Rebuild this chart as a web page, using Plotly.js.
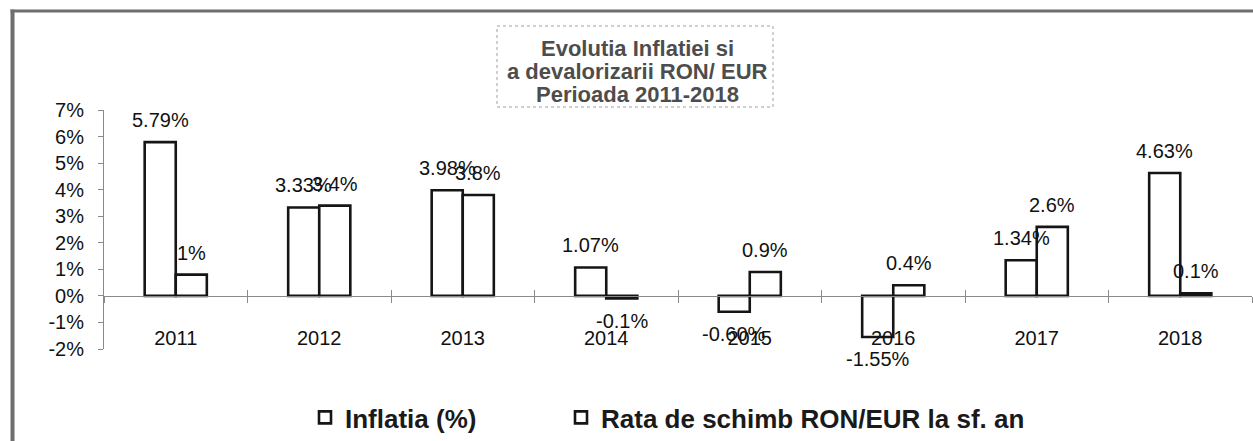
<!DOCTYPE html>
<html><head><meta charset="utf-8">
<script src="https://cdn.plot.ly/plotly-3.0.1.min.js"></script>
<style>html,body{margin:0;padding:0;background:#fff}#chart{width:1253px;height:441px}</style>
</head><body><div id="chart"></div>
<script>
const years = ['2011','2012','2013','2014','2015','2016','2017','2018'];
const inflation = [5.79, 3.33, 3.98, 1.07, -0.60, -1.55, 1.34, 4.63];
const inflationLabels = ['5.79%','3.33%','3.98%','1.07%','-0.60%','-1.55%','1.34%','4.63%'];
const rate = [0.8, 3.4, 3.8, -0.1, 0.9, 0.4, 2.6, 0.1];
const rateLabels = ['1%','3.4%','3.8%','-0.1%','0.9%','0.4%','2.6%','0.1%'];
const yTickVals = [-2,-1,0,1,2,3,4,5,6,7];
const yTickText = ['-2%','-1%','0%','1%','2%','3%','4%','5%','6%','7%'];
const seriesNames = ['Inflatia (%)', 'Rata de schimb RON/EUR la sf. an'];
const titleLines = ['Evolutia Inflatiei si','a devalorizarii RON/ EUR','Perioada 2011-2018'];

const W = 1253, H = 441;
const M = {l:104, r:1, t:110, b:92, autoexpand:false};
const PW = W - M.l - M.r, PH = H - M.t - M.b;
const px = x => (x - M.l) / PW;
const py = y => (H - M.b - y) / PH;
const yRange = [-2, 7];
const xRange = [-0.5, years.length - 0.5];
const bargap = 0.567;
const barW = PW / years.length * (1 - bargap) / 2;
const zeroPos = (0 - yRange[0]) / (yRange[1] - yRange[0]);
const FONT = '"Liberation Sans", Arial, sans-serif';
const AX = '#8a8a8a';

const barStyle = {color:'#ffffff', line:{color:'#151515', width:2.6}};
const traces = [
  {type:'bar', x:years, y:inflation, name:seriesNames[0], marker:barStyle, hoverinfo:'skip', legend:'legend'},
  {type:'bar', x:years, y:rate, name:seriesNames[1], marker:barStyle, hoverinfo:'skip', legend:'legend2'},
  {type:'scatter', mode:'none', x:years, y:inflation, xaxis:'x2', yaxis:'y', showlegend:false, hoverinfo:'skip'}
];

const annotations = [];
years.forEach((yr, i) => {
  [[inflation, inflationLabels, -1], [rate, rateLabels, 1]].forEach(([vals, labs, side]) => {
    annotations.push({
      x: i, y: vals[i], xref:'x', yref:'y', text: labs[i], showarrow:false,
      xanchor:'center', yanchor:'middle',
      xshift: side * barW / 2, yshift: vals[i] >= 0 ? 22 : -22,
      font:{family:FONT, size:20, color:'#111'}
    });
  });
});
const titleCenters = [48.7, 71.5, 94.3];
titleLines.forEach((t, k) => {
  annotations.push({
    xref:'paper', yref:'paper', x: px(637), y: py(titleCenters[k]), xanchor:'center', yanchor:'middle',
    text: t, showarrow:false,
    font:{family:FONT, size:22, color:'#4d4d4d', weight:'bold'}
  });
});

const shapes = [
  {type:'rect', xref:'paper', yref:'paper', x0:px(497), x1:px(773), y0:py(107), y1:py(26),
   line:{color:'#a0a0a0', width:1, dash:'dot'}},
  {type:'line', xref:'paper', yref:'paper', x0:px(12.5), x1:px(12.5), y0:py(460), y1:py(9.5),
   line:{color:'#6e6e6e', width:4}},
  {type:'line', xref:'paper', yref:'paper', x0:px(10.5), x1:px(1270), y0:py(11), y1:py(11),
   line:{color:'#6e6e6e', width:3}}
];

const legendFont = {family:FONT, size:26, color:'#1a1a1a', weight:'bold'};
const layout = {
  width:W, height:H, margin:M,
  paper_bgcolor:'#ffffff', plot_bgcolor:'#ffffff',
  barmode:'group', bargap:bargap, bargroupgap:0,
  showlegend:true,
  font:{family:FONT, color:'#111'},
  xaxis:{type:'category', range:xRange, anchor:'free', position:zeroPos,
    showline:true, linecolor:AX, linewidth:1, ticks:'outside', tickson:'boundaries',
    ticklen:6, tickcolor:AX, tickwidth:1, showgrid:false, zeroline:false,
    tickfont:{family:FONT, size:20, color:'#111'}, ticklabelstandoff:24},
  xaxis2:{type:'category', range:xRange, overlaying:'x', anchor:'free', position:zeroPos,
    showline:false, ticks:'inside', tickson:'boundaries', ticklen:6, tickcolor:AX, tickwidth:1,
    showticklabels:false, showgrid:false, zeroline:false},
  yaxis:{range:yRange, tickvals:yTickVals, ticktext:yTickText, ticks:'outside', ticklen:5,
    tickcolor:AX, tickwidth:1, showline:true, linecolor:AX, linewidth:1, showgrid:false,
    zeroline:false, tickfont:{family:FONT, size:20, color:'#111'}, ticklabelstandoff:10},
  yaxis2:{range:yRange, tickvals:yTickVals, overlaying:'y', side:'left', anchor:'x',
    ticks:'inside', ticklen:5, tickcolor:AX, tickwidth:1, showticklabels:false,
    showline:false, showgrid:false, zeroline:false},
  legend:{orientation:'h', x:px(305), xanchor:'left', y:py(394), yanchor:'top',
    bgcolor:'rgba(0,0,0,0)', font:legendFont},
  legend2:{orientation:'h', x:px(561), xanchor:'left', y:py(394), yanchor:'top',
    bgcolor:'rgba(0,0,0,0)', font:legendFont},
  annotations:annotations, shapes:shapes
};

Plotly.newPlot('chart', traces, layout, {staticPlot:true, displayModeBar:false});
</script></body></html>
